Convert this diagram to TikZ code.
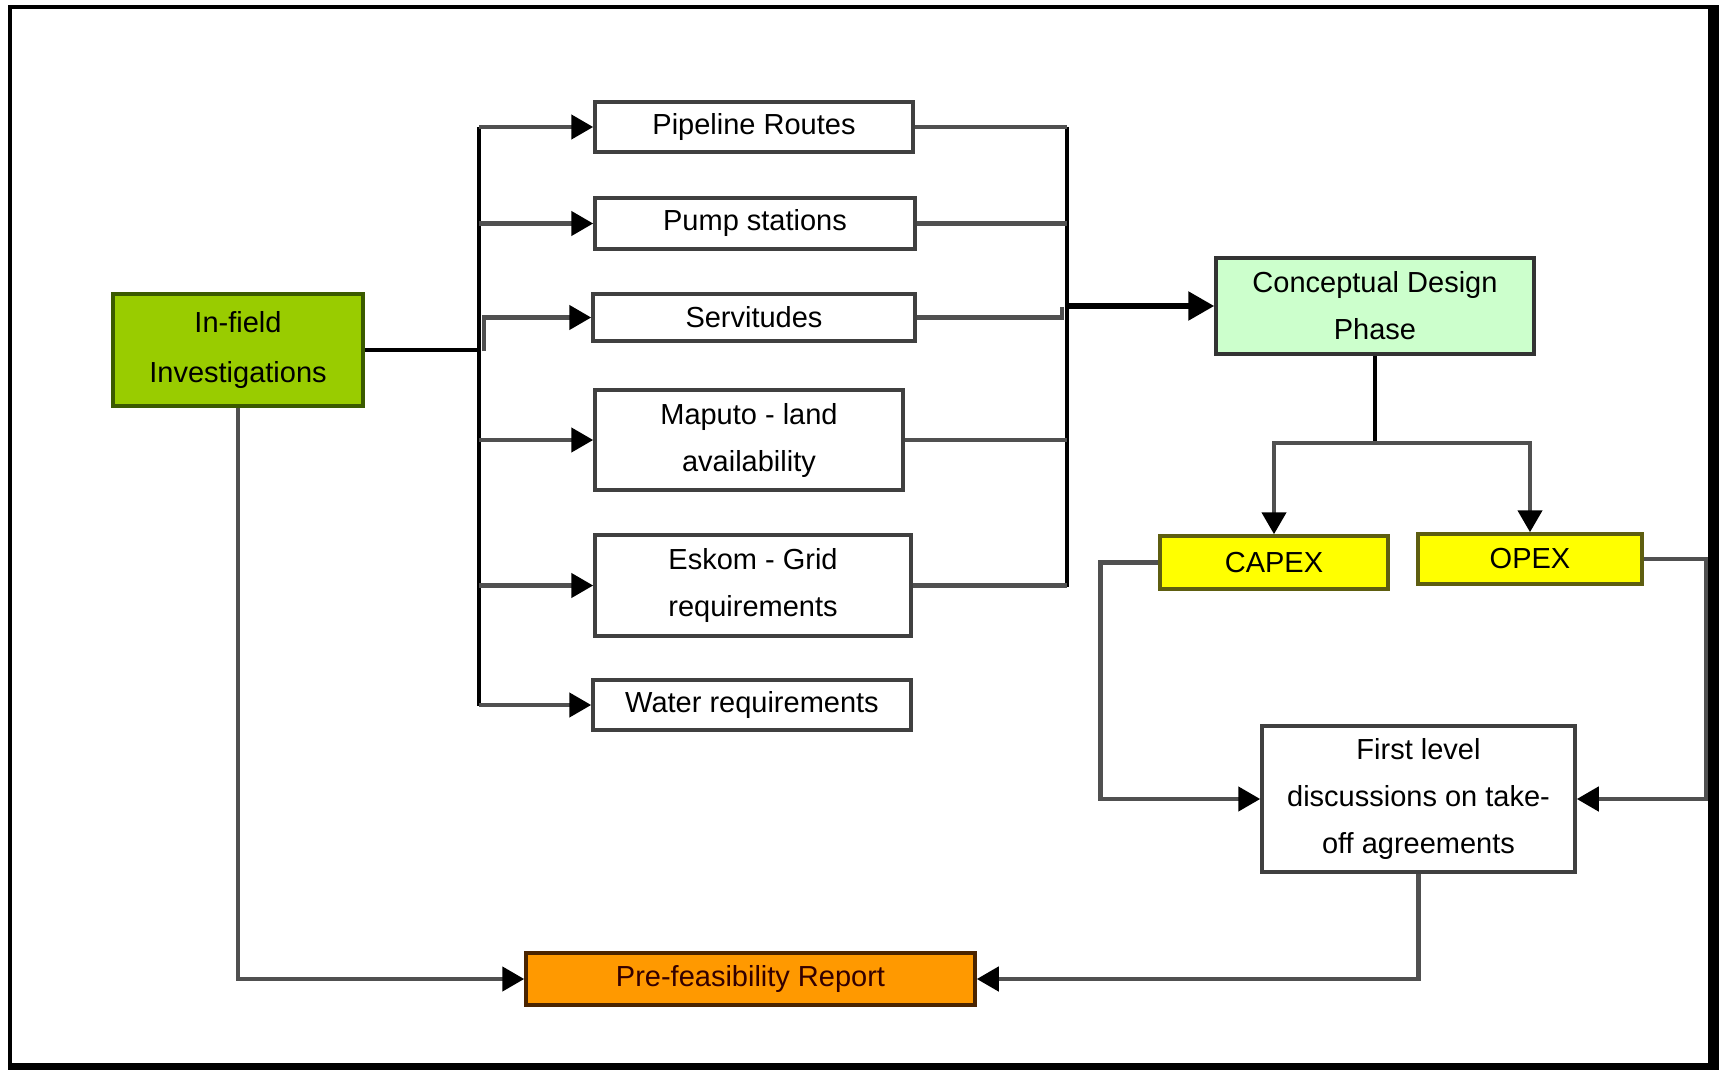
\documentclass[tikz,border=0pt]{standalone}
\usepackage{fontspec}
\setmainfont{Liberation Sans}
\usetikzlibrary{arrows.meta}
\definecolor{cGreen}{HTML}{99CC00}
\definecolor{cGreenB}{HTML}{3A5A00}
\definecolor{cMint}{HTML}{CCFFCC}
\definecolor{cYel}{HTML}{FFFF00}
\definecolor{cYelB}{HTML}{5E5E10}
\definecolor{cOrange}{HTML}{FF9900}
\definecolor{cOrangeB}{HTML}{4A2400}
\definecolor{cTextR}{HTML}{330000}
\definecolor{cBox}{HTML}{404040}
\definecolor{cLine}{HTML}{505050}
\begin{document}
\begin{tikzpicture}[x=1pt,y=-1pt,
  box/.style={draw=cBox, line width=3.5pt, fill=white, align=center,
    font=\fontsize{29}{47}\selectfont, inner sep=0pt},
  conn/.style={draw=cLine, line width=4.5pt},
  busline/.style={draw=black, line width=3.5pt},
  arr/.style={-{Triangle[length=22pt,width=24pt,color=black,fill=black]}},
  bigarr/.style={-{Triangle[length=26pt,width=28pt,color=black,fill=black]}}
]
\useasboundingbox (0,0) rectangle (1719,1070);
\fill[white] (0,0) rectangle (1719,1070);
\fill[black] (8,5) rectangle (1719,1070);
\fill[white] (12,9) rectangle (1708,1063);

% nodes
\node[box, fill=cGreen, draw=cGreenB, minimum width=250pt, minimum height=112pt,
  font=\fontsize{29}{50}\selectfont] (infield) at (238,350) {In-field\\Investigations};
\node[box, minimum width=318pt, minimum height=50pt] (pipeline) at (754,127) {Pipeline Routes};
\node[box, minimum width=320pt, minimum height=51pt] (pump) at (755,223.5) {Pump stations};
\node[box, minimum width=322pt, minimum height=47pt] (serv) at (754,317.5) {Servitudes};
\node[box, minimum width=308pt, minimum height=100pt] (maputo) at (749,440) {Maputo - land\\availability};
\node[box, minimum width=316pt, minimum height=101pt] (eskom) at (753,585.5) {Eskom - Grid\\requirements};
\node[box, minimum width=318pt, minimum height=50pt] (water) at (752,705) {Water requirements};
\node[box, fill=cMint, draw=black!80, minimum width=318pt, minimum height=96pt] (concept) at (1375,306) {Conceptual Design\\Phase};
\node[box, fill=cYel, draw=cYelB, minimum width=228pt, minimum height=53pt] (capex) at (1274,562.5) {CAPEX};
\node[box, fill=cYel, draw=cYelB, minimum width=224pt, minimum height=50pt] (opex) at (1530,559) {OPEX};
\node[box, minimum width=313pt, minimum height=146pt] (first) at (1418.5,799) {First level\\discussions on take-\\off agreements};
\node[box, fill=cOrange, draw=cOrangeB, text=cTextR, minimum width=449pt, minimum height=52pt] (report) at (750.5,979) {Pre-feasibility Report};

% left bus
\coordinate (LT) at (479,127);
\coordinate (LB) at (479,706);
\coordinate (SJ) at (484,351);
\draw[busline] (LT) -- (LB);
\draw[busline, line width=4.5pt] (infield.east) -- (infield.east -| LT);
\foreach \n in {pipeline,pump,maputo,eskom,water}
  \draw[conn,arr] (LT |- \n.west) -- (\n.west);
\draw[conn,arr] (SJ) |- (serv.west);

% right bus
\coordinate (RT) at (1067,127);
\coordinate (RB) at (1067,587);
\coordinate (RJ) at (1062,307);
\draw[busline] (RT) -- (RB);
\foreach \n in {pipeline,pump,maputo,eskom}
  \draw[conn] (\n.east) -- (\n.east -| RT);
\draw[conn] (serv.east) -| (RJ);
\draw[busline, line width=5.5pt, bigarr] (RT |- concept.west) -- (concept.west);

% conceptual to capex / opex
\coordinate (CJ) at (1375,443);
\draw[busline] (concept.south) -- (CJ);
\draw[conn,arr] (CJ) -| (capex.north);
\draw[conn,arr] (CJ) -| (opex.north);

% capex / opex to first level
\draw[conn,arr] (capex.west) -- ++(-58,0) |- (first.west);
\draw[conn,arr] (opex.east) -- ++(62,0) |- (first.east);

% to report
\draw[conn,arr] (first.south) |- (report.east);
\draw[conn,arr] (infield.south) |- (report.west);
\end{tikzpicture}
\end{document}
